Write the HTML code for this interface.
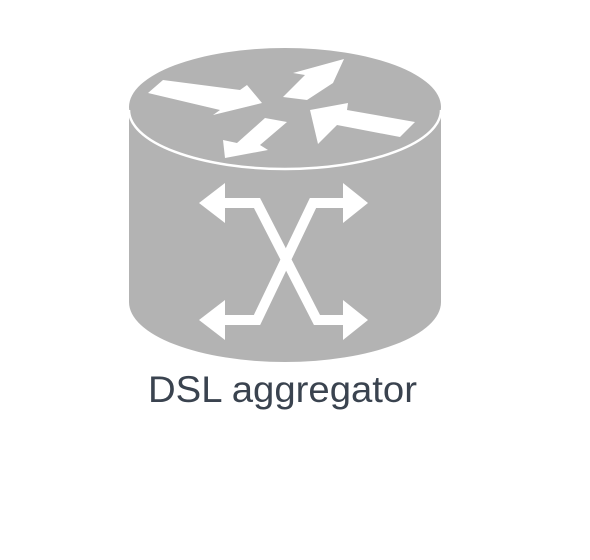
<!DOCTYPE html>
<html><head><meta charset="utf-8"><style>html,body{margin:0;padding:0;background:#fff;width:590px;height:560px;overflow:hidden}</style></head>
<body>
<svg width="590" height="560" viewBox="0 0 590 560" xmlns="http://www.w3.org/2000/svg">
<path d="M129,110 L129,302 A156,60 0 0 0 441,302 L441,110 Z" fill="#b3b3b3"/>
<ellipse cx="285" cy="107" rx="156" ry="59" fill="#b3b3b3"/>
<path d="M129,110 A156,59 0 0 0 441,110" fill="none" stroke="#fff" stroke-width="2.5"/>
<g fill="#fff">
<polygon points="163,80 240,90 247,85 262,103 213,115 220,110 148,93"/>
<polygon points="283,97 307,100 333,83 344,59 293,73 305,75 "/>
<polygon points="265,118 287,122 260,145 268,150 225,158 223,140 237,143 265,118"/>
<polygon points="415,122 400,137 337,125 318,144 310,110 348,103 347,110"/>
<polygon points="199,203 225,183 225,223"/>
<polygon points="368,203 343,183 343,223"/>
<polygon points="199,320 225,300 225,340"/>
<polygon points="368,320 343,300 343,340"/>
</g>
<g fill="none" stroke="#fff" stroke-width="10" stroke-linejoin="miter">
<polyline points="222,203 257,203 317,320 346,320"/>
<polyline points="346,203 313,203 257,320 222,320"/>
</g>
<text x="148" y="402" font-family="Liberation Sans, sans-serif" font-size="37" fill="#3a434f" textLength="269" lengthAdjust="spacingAndGlyphs">DSL aggregator</text>
</svg>
</body></html>
